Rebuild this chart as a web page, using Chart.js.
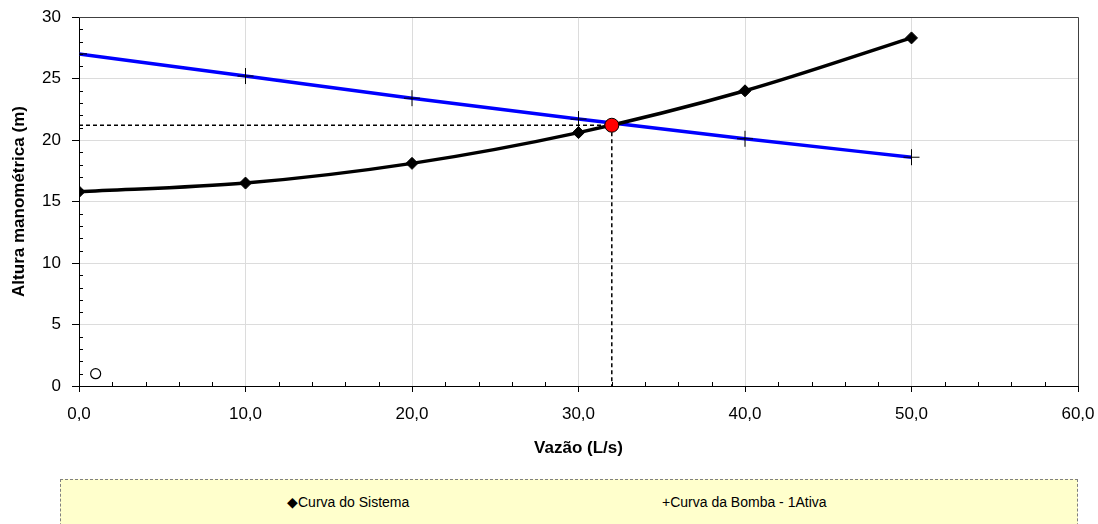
<!DOCTYPE html>
<html>
<head>
<meta charset="utf-8">
<script src="https://cdn.jsdelivr.net/npm/chart.js@4.4.1/dist/chart.umd.min.js"></script>
<style>
  body { margin: 0; background: #fff; font-family: "Liberation Sans", Arial, sans-serif; }
  #wrap { position: relative; width: 1098px; height: 524px; overflow: hidden; }
  #curveChart { position: absolute; left: 0; top: 0; }
  .legend-box {
    position: absolute; left: 60px; top: 479px; width: 1016px; height: 60px;
    background: #ffffcc; border: 1px dashed #808080;
  }
  .legend-item {
    position: absolute; top: 502px; transform: translateY(-50%);
    font-size: 14px; color: #000; white-space: nowrap;
  }
</style>
</head>
<body>
<div id="wrap">
  <canvas id="curveChart" width="1098" height="470"></canvas>
  <div class="legend-box"></div>
  <div class="legend-item" id="legSystem" style="left:287px"></div>
  <div class="legend-item" id="legPump" style="left:662px"></div>
</div>
<script>
// vazão (L/s) e alturas
const flows = [0, 10, 20, 30, 40, 50];
const systemHead = [15.8, 16.5, 18.1, 20.6, 24.0, 28.3];
const pumpHead = [27.0, 25.2, 23.4, 21.7, 20.1, 18.6];
const seriesNames = ['Curva do Sistema', 'Curva da Bomba - 1Ativa'];

// ponto de operação e marcador isolado
const opFlow = 32.0;
const opHead = 21.2;
const lonePoint = [1.0, 1.0];

const xMin = 0, xMax = 60, xStep = 10, xMinor = 2;
const yMin = 0, yMax = 30, yStep = 5, yMinor = 1;

const FONT = "'Liberation Sans', Arial, sans-serif";
Chart.defaults.font.family = FONT;
Chart.defaults.color = '#000';

document.getElementById('legSystem').textContent = '\u25C6' + seriesNames[0];
document.getElementById('legPump').textContent = '+' + seriesNames[1];

const toXY = (xs, ys) => xs.map((x, i) => ({ x: x, y: ys[i] }));

// minor ticks + top/right frame of the plot area
const axisExtras = {
  id: 'axisExtras',
  afterDraw(chart) {
    const ctx = chart.ctx;
    const x = chart.scales.x, y = chart.scales.y;
    const a = chart.chartArea;
    ctx.save();
    ctx.strokeStyle = '#404040';
    ctx.lineWidth = 1;
    ctx.beginPath();
    ctx.moveTo(a.left, a.top + 0.5);
    ctx.lineTo(a.right + 0.5, a.top + 0.5);
    ctx.lineTo(a.right + 0.5, a.bottom);
    ctx.stroke();

    ctx.strokeStyle = '#000';
    ctx.beginPath();
    for (let v = xMin + xMinor; v < xMax; v += xMinor) {
      if (v % xStep === 0) continue;
      const px = Math.round(x.getPixelForValue(v)) + 0.5;
      ctx.moveTo(px, a.bottom);
      ctx.lineTo(px, a.bottom - 4);
    }
    for (let v = yMin + yMinor; v < yMax; v += yMinor) {
      if (v % yStep === 0) continue;
      const py = Math.round(y.getPixelForValue(v)) + 0.5;
      ctx.moveTo(a.left, py);
      ctx.lineTo(a.left + 4, py);
    }
    ctx.stroke();
    ctx.restore();
  }
};

const ctx = document.getElementById('curveChart').getContext('2d');

new Chart(ctx, {
  type: 'line',
  data: {
    datasets: [
      {
        label: 'op-horizontal',
        data: [{ x: xMin, y: opHead }, { x: opFlow, y: opHead }],
        borderColor: '#000',
        borderWidth: 1.5,
        borderDash: [4, 3],
        pointRadius: 0,
        fill: false,
        order: 5
      },
      {
        label: 'op-vertical',
        data: [{ x: opFlow, y: opHead }, { x: opFlow, y: yMin }],
        borderColor: '#000',
        borderWidth: 1.5,
        borderDash: [4, 3],
        pointRadius: 0,
        fill: false,
        order: 5
      },
      {
        label: seriesNames[1],
        data: toXY(flows, pumpHead),
        borderColor: '#0000ff',
        borderWidth: 3.5,
        pointStyle: 'cross',
        pointRadius: 8,
        pointBorderColor: '#000',
        pointBorderWidth: 1,
        cubicInterpolationMode: 'monotone',
        fill: false,
        order: 3
      },
      {
        label: seriesNames[0],
        data: toXY(flows, systemHead),
        borderColor: '#000',
        borderWidth: 3.5,
        pointStyle: 'rectRot',
        pointRadius: 6,
        pointBackgroundColor: '#000',
        pointBorderColor: '#000',
        pointBorderWidth: 1,
        cubicInterpolationMode: 'monotone',
        fill: false,
        order: 2
      },
      {
        label: 'ponto',
        data: [{ x: lonePoint[0], y: lonePoint[1] }],
        showLine: false,
        pointStyle: 'circle',
        pointRadius: 5,
        pointBackgroundColor: '#fff',
        pointBorderColor: '#000',
        pointBorderWidth: 1.2,
        order: 1
      },
      {
        label: 'operação',
        data: [{ x: opFlow, y: opHead }],
        showLine: false,
        pointStyle: 'circle',
        pointRadius: 7,
        pointBackgroundColor: '#ff0000',
        pointBorderColor: '#000',
        pointBorderWidth: 1,
        order: 0
      }
    ]
  },
  options: {
    responsive: false,
    devicePixelRatio: 1,
    animation: false,
    layout: { padding: { top: 17, right: 20, left: 0, bottom: 0 } },
    plugins: {
      legend: { display: false },
      tooltip: { enabled: false }
    },
    scales: {
      x: {
        type: 'linear',
        min: xMin,
        max: xMax,
        afterFit: (scale) => {
          scale.height = 84;
          scale.paddingLeft = 0;
          scale.paddingRight = 0;
        },
        border: { color: '#000', width: 1 },
        grid: { color: '#dcdcdc', tickColor: '#000', tickLength: 6 },
        ticks: {
          stepSize: xStep,
          padding: 12,
          font: { size: 17 },
          callback: (v) => v.toFixed(1).replace('.', ',')
        },
        title: {
          display: true,
          text: 'Vazão (L/s)',
          font: { size: 17, weight: 'bold' },
          padding: { top: 0, bottom: 11 }
        }
      },
      y: {
        min: yMin,
        max: yMax,
        afterFit: (scale) => {
          scale.width = 79;
          scale.paddingTop = 0;
          scale.paddingBottom = 0;
        },
        border: { color: '#000', width: 1 },
        grid: { color: '#dcdcdc', tickColor: '#000', tickLength: 7 },
        ticks: {
          stepSize: yStep,
          padding: 11,
          font: { size: 17 }
        },
        title: {
          display: true,
          text: 'Altura manométrica (m)',
          font: { size: 17, weight: 'bold' },
          padding: { top: 9, bottom: 0 }
        }
      }
    }
  },
  plugins: [axisExtras]
});
</script>
</body>
</html>
